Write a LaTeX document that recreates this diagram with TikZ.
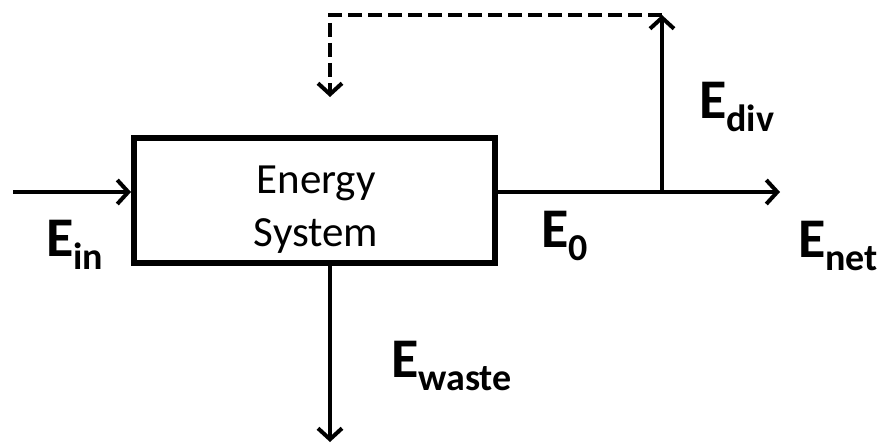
\documentclass[tikz,border=0pt]{standalone}
\usepackage{fontspec}
\setmainfont{Carlito}
\usetikzlibrary{arrows.meta}
\newcommand\lsub[1]{\raisebox{-13pt}{\fontsize{38}{38}\selectfont #1}}
\begin{document}
\begin{tikzpicture}[x=1pt,y=-1pt,
 flow/.style={line width=4pt,-{Straight Barb[length=11pt,width=24pt,line width=4pt]}},
 plain/.style={line width=4pt},
 dashflow/.style={flow,dash pattern=on 14pt off 6pt},
 lbl/.style={anchor=base west,inner sep=0pt,font=\bfseries\fontsize{56}{56}\selectfont},
 boxtext/.style={anchor=base,inner sep=0pt,font=\fontsize{43}{53}\selectfont},
 sysbox/.style={draw,line width=6pt,minimum width=361pt,minimum height=125pt,inner sep=0pt}]
\useasboundingbox (0,0) rectangle (878,444);
\node[sysbox] (box) at (314.5,200.5) {};
\node[boxtext] (energy) at (316,193) {Energy};
\node[boxtext] (system) at (316,246) {System};
\coordinate (inS) at (13,192);
\coordinate (split) at (662,192);
\coordinate (netE) at (780,192);
\coordinate (divtop) at (662,15);
\coordinate (dashL) at (330,15);
\coordinate (dashEnd) at (330,97);
\coordinate (wasteEnd) at (330,442);
\draw[flow] (inS) -- (inS -| box.west);
\draw[plain] (split -| box.east) -- (split);
\draw[flow] (split) -- (netE);
\draw[flow] (split) -- (divtop);
\draw[dashflow] (divtop) -- (dashL) -- (dashEnd);
\draw[flow] (wasteEnd |- box.south) -- (wasteEnd);
\node[lbl] (ein) at (46,256) {E\lsub{in}};
\node[lbl] (e0) at (541,247) {E\lsub{0}};
\node[lbl] (enet) at (798,257) {E\lsub{net}};
\node[lbl] (ewaste) at (391,377) {E\lsub{waste}};
\node[lbl] (ediv) at (699,118) {E\lsub{div}};
\end{tikzpicture}
\end{document}
